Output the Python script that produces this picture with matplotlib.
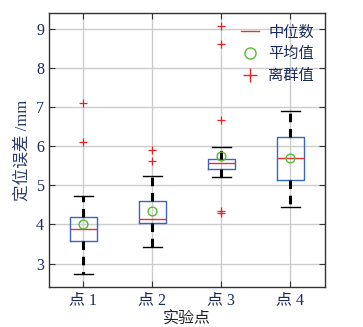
import matplotlib
matplotlib.use("Agg")
import matplotlib.pyplot as plt
from matplotlib.lines import Line2D

categories = ["点 1", "点 2", "点 3", "点 4"]
q1 = [3.58, 4.05, 5.42, 5.13]
q3 = [4.20, 4.60, 5.66, 6.23]
medians = [3.89, 4.14, 5.58, 5.71]
means = [4.00, 4.35, 5.75, 5.71]
whislo = [2.73, 3.43, 5.21, 4.45]
whishi = [4.73, 5.25, 5.98, 6.91]
outliers = [[7.10, 6.10], [5.90, 5.62], [9.07, 8.62, 6.68, 4.35, 4.29], []]
yticks = [3, 4, 5, 6, 7, 8, 9]
ylabel = "定位误差 /mm"
xlabel = "实验点"
legend_labels = ["中位数", "平均值", "离群值"]

plt.rcParams['font.family'] = ['Liberation Serif', 'Noto Sans CJK SC']

fig = plt.figure(figsize=(3.63, 3.27), dpi=100)
ax = fig.add_axes([0.135, 0.122, 0.76, 0.838])

stats = []
for i in range(len(categories)):
    stats.append(dict(med=medians[i], q1=q1[i], q3=q3[i], whislo=whislo[i],
                      whishi=whishi[i], mean=means[i], fliers=outliers[i]))

box_color = "#3a66c0"
ax.bxp(stats, positions=[1, 2, 3, 4], widths=0.4, capwidths=0.27,
       showmeans=True, meanline=False,
       boxprops=dict(color=box_color, linewidth=1.0),
       medianprops=dict(color="#f03030", linewidth=1.0),
       whiskerprops=dict(color="black", linewidth=2.2, linestyle=(0, (2.8, 2.2))),
       capprops=dict(color="black", linewidth=1.0),
       meanprops=dict(marker="o", markerfacecolor="none", markeredgecolor="#55bb33",
                      markersize=6.3, markeredgewidth=1.0),
       flierprops=dict(marker="+", markeredgecolor="#ee2020", markersize=6.3,
                       markeredgewidth=0.9, linestyle="none"))

ax.set_xlim(0.5, 4.5)
ax.set_ylim(2.4, 9.4)
ax.set_yticks(yticks)
ax.set_xticks([1, 2, 3, 4])
ax.set_xticklabels(categories)
ax.grid(True, color="#cccccc", linewidth=1.0)
ax.set_axisbelow(True)
ax.tick_params(direction="in", top=True, right=True, length=4, width=0.8,
               labelsize=11.5, colors="#333333", labelcolor="#1a2a5a")
for s in ax.spines.values():
    s.set_color("#333333")
    s.set_linewidth(1.0)

ax.set_ylabel(ylabel, fontsize=12, color="#2a3a6a", labelpad=4)
ax.set_xlabel(xlabel, fontsize=11.5, color="#222222", labelpad=3)

handles = [Line2D([], [], color="#f03030", linewidth=1.0),
           Line2D([], [], marker="o", markerfacecolor="none", markeredgecolor="#55bb33",
                  linestyle="none", markersize=8),
           Line2D([], [], marker="+", markeredgecolor="#ee2020", linestyle="none",
                  markersize=10)]
leg = ax.legend(handles, legend_labels, loc="upper right", frameon=False,
                fontsize=11, handlelength=1.2, handletextpad=0.6,
                labelspacing=0.5, borderaxespad=0.3,
                bbox_to_anchor=(1.0, 0.995))
for t in leg.get_texts():
    t.set_color("#1a2a5a")

fig.savefig("out.png", dpi=100)
